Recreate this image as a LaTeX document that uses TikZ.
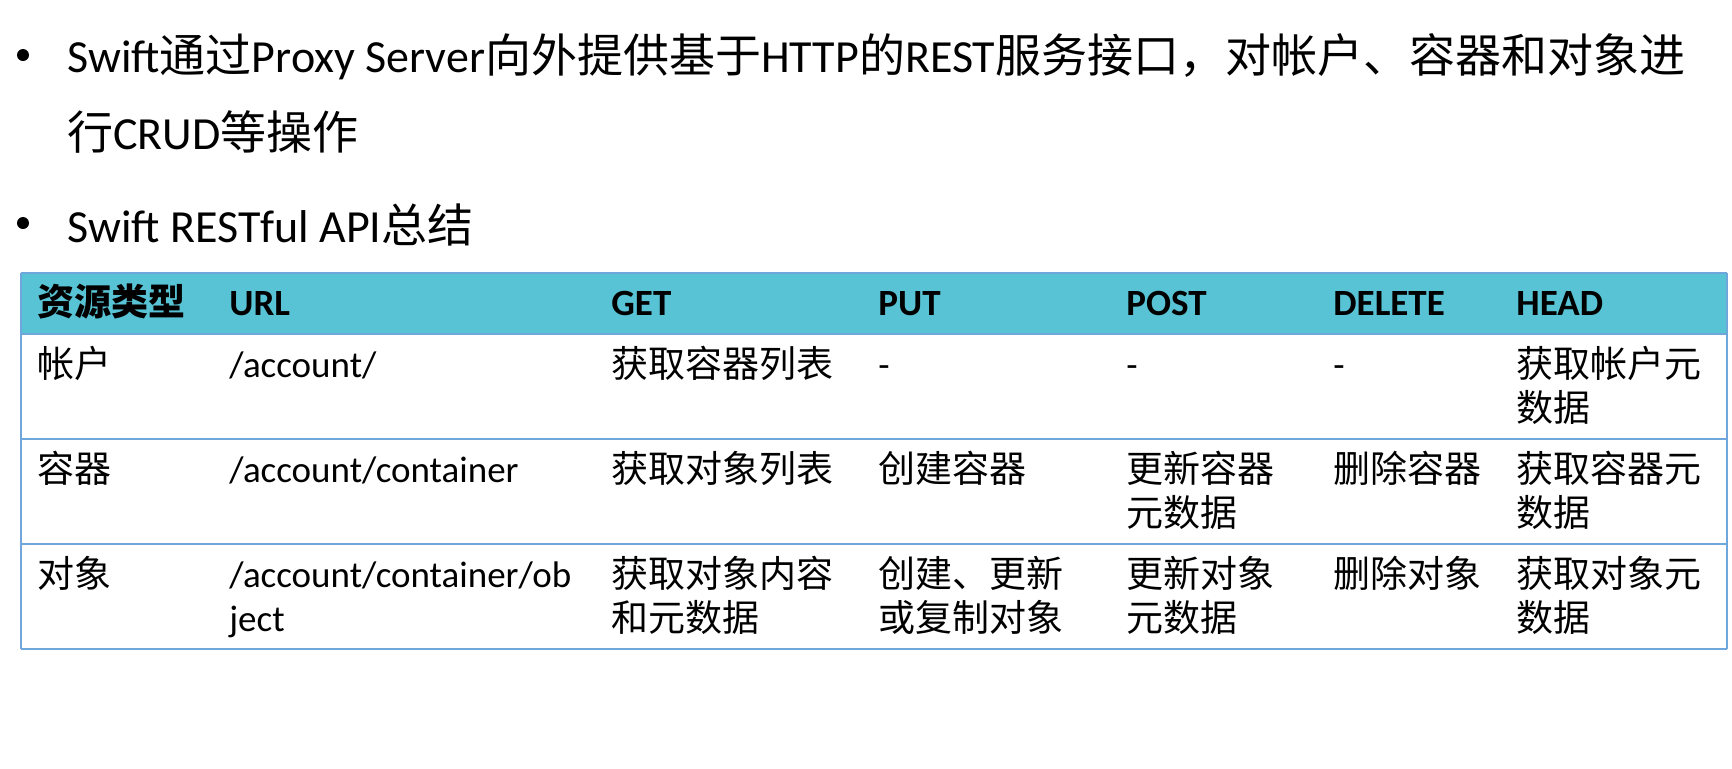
\documentclass[tikz,border=0pt]{standalone}
\usepackage{fontspec}
\setmainfont{Carlito}
\newfontfamily\cjk{Noto Sans CJK SC}
\usetikzlibrary{positioning}
\newcommand\zh[1]{{\cjk #1}}
\newcommand\en[1]{{\rmfamily #1}}
\definecolor{headfill}{HTML}{57C3D4}
\definecolor{gridline}{HTML}{6FA6DC}

\begin{document}
\begin{tikzpicture}[x=0.5pt, y=-0.5pt,
    bul/.style={circle, fill=black, inner sep=0, minimum size=6pt},
    txt/.style={anchor=base west, inner sep=0, align=left, font=\fontsize{23}{38.25}\selectfont},
    hd/.style={anchor=base west, inner sep=0, font=\fontsize{18.5}{22}\selectfont\bfseries},
    cell/.style={anchor=base west, inner sep=0, align=left, font=\fontsize{18.5}{22}\selectfont\cjk},
    two/.style={cell, yshift=-22pt},
    grid/.style={draw=gridline, line width=0.8pt}]
  \useasboundingbox (0,0) rectangle (1732,768);

  % bullets
  \node[bul] (b1) at (23,55) {};
  \node[txt, yshift=-38.25pt] (t1) at (67,72.5) {Swift\zh{通过}Proxy Server\zh{向外提供基于}HTTP\zh{的}REST\zh{服务接口，对帐户、容器和对象进}\\\zh{行}CRUD\zh{等操作}};
  \node[bul] (b2) at (23,223) {};
  \node[txt] (t2) at (67,242) {Swift RESTful API\zh{总结}};

  % table
  \fill[headfill] (21,273) rectangle (1727,334);
  \foreach \ry in {273,334,439,544,649}
    \draw[grid] (21,\ry) -- (1727,\ry);
  \draw[grid] (21,273) -- (21,649) (1727,273) -- (1727,649);

  \foreach \cx/\ct [count=\i] in {37/\zh{资源类型}, 229/URL, 611/GET, 878/PUT, 1126/POST, 1333/DELETE, 1516/HEAD}
    \node[hd] (h\i) at (\cx,315) {\ct};

  % rows: one-line cells, then two-line cells
  \foreach \cx/\ct [count=\i] in {37/帐户, 229/{\en{/account/}}, 611/获取容器列表, 878/\en{-}, 1126/\en{-}, 1333/\en{-}}
    \node[cell] (a\i) at (\cx,377) {\ct};
  \node[two] (a7) at (1516,377) {获取帐户元\\数据};

  \foreach \cx/\ct [count=\i] in {37/容器, 229/{\en{/account/container}}, 611/获取对象列表, 878/创建容器, 1333/删除容器}
    \node[cell] (c\i) at (\cx,482) {\ct};
  \node[two] (c6) at (1126,482) {更新容器\\元数据};
  \node[two] (c7) at (1516,482) {获取容器元\\数据};

  \node[cell] (o1) at (37,587) {对象};
  \node[cell] (o6) at (1333,587) {删除对象};
  \foreach \cx/\ct [count=\i from 2] in {229/{\en{/account/container/ob}\\\en{ject}}, 611/{获取对象内容\\和元数据}, 878/{创建、更新\\或复制对象}, 1126/{更新对象\\元数据}}
    \node[two] (o\i) at (\cx,587) {\ct};
  \node[two] (o7) at (1516,587) {获取对象元\\数据};
\end{tikzpicture}
\end{document}
